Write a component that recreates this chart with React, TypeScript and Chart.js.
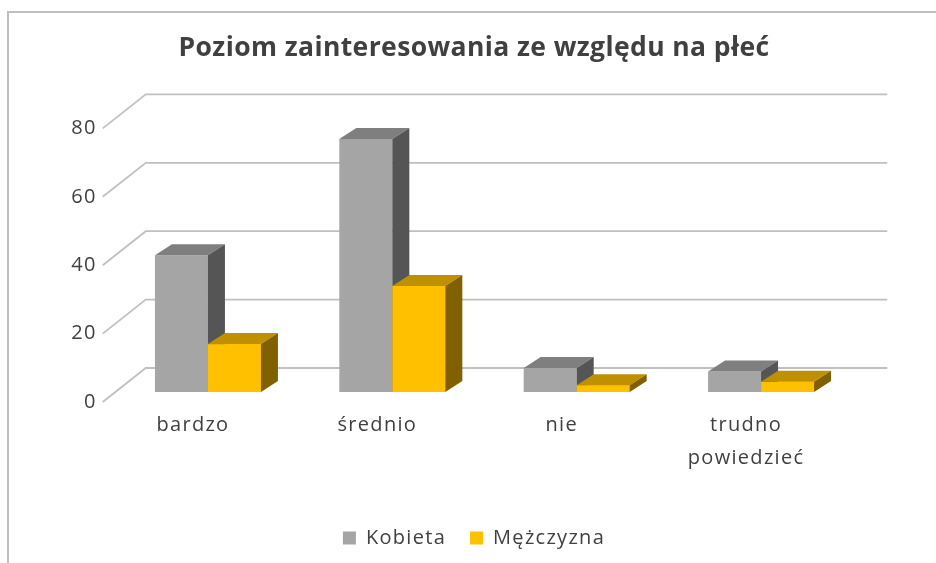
import React, { useEffect, useRef } from 'react';
import { Chart, registerables } from 'chart.js';

Chart.register(...registerables);

// ---- data ----
const categories: string[][] = [['bardzo'], ['średnio'], ['nie'], ['trudno', 'powiedzieć']];
const seriesNames = ['Kobieta', 'Mężczyzna'];
const kobieta = [40, 74, 7, 6];
const mezczyzna = [14, 31, 2, 3];
const yTicks = [0, 20, 40, 60, 80];
const titleText = 'Poziom zainteresowania ze względu na płeć';

// ---- styles ----
const FRONT = ['#a5a5a5', '#ffc000'];
const FACES = [
  { top: '#7f7f7f', side: '#555555' },
  { top: '#bf9000', side: '#806000' },
];
const TEXT = '#404040';
const GRID = '#c0c0c0';
const FONT = "'Open Sans', 'Noto Sans', sans-serif";
const DX = 17;
const DY = -11;

const threeD = {
  id: 'threeD',
  beforeUpdate(chart: any) {
    chart.ctx.letterSpacing = '1.3px';
    const tb = chart.titleBlock;
    if (tb && !tb._lsPatched) {
      const orig = tb.draw;
      tb.draw = function (...a: any[]) {
        const c = this.ctx;
        const prev = c.letterSpacing;
        c.letterSpacing = '0.4px';
        orig.apply(this, a);
        c.letterSpacing = prev;
      };
      tb._lsPatched = true;
    }
  },
  beforeDatasetsDraw(chart: any) {
    const { ctx, chartArea, scales } = chart;
    const y = scales.y;
    ctx.save();
    ctx.strokeStyle = GRID;
    ctx.lineWidth = 1.8;
    const fx = chartArea.left - 13;
    const bx = chartArea.left + 30;
    const rx = chartArea.right + 34;
    for (const v of yTicks) {
      const p = y.getPixelForValue(v);
      ctx.beginPath();
      ctx.moveTo(fx, p + 10);
      ctx.lineTo(bx, p - 24);
      ctx.lineTo(rx, p - 24);
      ctx.stroke();
    }
    ctx.restore();
  },
  afterDatasetsDraw(chart: any) {
    const { ctx } = chart;
    ctx.save();
    chart.data.datasets.forEach((_ds: any, i: number) => {
      const meta = chart.getDatasetMeta(i);
      const faces = FACES[i];
      meta.data.forEach((bar: any) => {
        const { x, y, base, width } = bar.getProps(['x', 'y', 'base', 'width'], true);
        const l = x - width / 2;
        const r = x + width / 2;
        if (i > 0) {
          ctx.fillStyle = FRONT[i];
          ctx.fillRect(l, y, width, base - y);
        }
        ctx.fillStyle = faces.top;
        ctx.beginPath();
        ctx.moveTo(l, y);
        ctx.lineTo(l + DX, y + DY);
        ctx.lineTo(r + DX, y + DY);
        ctx.lineTo(r, y);
        ctx.closePath();
        ctx.fill();
        ctx.fillStyle = faces.side;
        ctx.beginPath();
        ctx.moveTo(r, y);
        ctx.lineTo(r + DX, y + DY);
        ctx.lineTo(r + DX, base + DY);
        ctx.lineTo(r, base);
        ctx.closePath();
        ctx.fill();
      });
    });
    ctx.restore();
  },
};

export default function App() {
  const ref = useRef<HTMLCanvasElement>(null);

  useEffect(() => {
    if (!ref.current) return;
    const chart = new Chart(ref.current, {
      type: 'bar',
      data: {
        labels: categories,
        datasets: [
          {
            label: seriesNames[0],
            data: kobieta,
            backgroundColor: FRONT[0],
            categoryPercentage: 0.575,
            barPercentage: 1,
          },
          {
            label: seriesNames[1],
            data: mezczyzna,
            backgroundColor: FRONT[1],
            categoryPercentage: 0.575,
            barPercentage: 1,
          },
        ],
      },
      options: {
        responsive: false,
        animation: false,
        maintainAspectRatio: false,
        layout: { padding: { left: 12, right: 0, top: 0, bottom: 5 } },
        plugins: {
          tooltip: { enabled: false },
          title: {
            display: true,
            text: titleText,
            color: TEXT,
            font: { family: FONT, size: 26.5, weight: 'bold', lineHeight: 1.2 },
            padding: { top: 32.1, bottom: 54.5 },
          },
          legend: {
            position: 'bottom',
            labels: {
              color: TEXT,
              font: { family: FONT, size: 20 },
              boxWidth: 13,
              boxHeight: 13,
              padding: 24,
            },
          },
        },
        scales: {
          x: {
            grid: { display: false, drawTicks: false },
            border: { display: false },
            ticks: {
              color: TEXT,
              font: { family: FONT, size: 20, lineHeight: 1.65 },
              padding: 16.5,
              labelOffset: -15,
              autoSkip: false,
              maxRotation: 0,
            },
            afterFit: (a: any) => {
              a.height = 112;
            },
          },
          y: {
            position: 'left',
            min: 0,
            max: 80,
            grid: { display: false, drawTicks: false },
            border: { display: false },
            ticks: {
              stepSize: 20,
              color: TEXT,
              font: { family: FONT, size: 20 },
              padding: 19,
              labelOffset: 10,
            },
            afterFit: (a: any) => {
              a.width = 103.75;
            },
          },
          y2: {
            position: 'right',
            display: true,
            grid: { display: false, drawTicks: false },
            border: { display: false },
            ticks: { display: false },
            afterFit: (a: any) => {
              a.width = 82.75;
            },
          },
        },
      },
      plugins: [threeD],
    });
    return () => chart.destroy();
  }, []);

  return (
    <div
      style={{
        position: 'fixed',
        left: 0,
        top: 0,
        width: 936,
        height: 563,
        overflow: 'hidden',
        background: '#ffffff',
      }}
    >
      <div
        style={{
          position: 'absolute',
          left: 7,
          top: 11,
          width: 960,
          height: 600,
          borderLeft: '2px solid #bfbfbf',
          borderTop: '2px solid #bfbfbf',
        }}
      />
      <canvas
        ref={ref}
        width={936}
        height={563}
        style={{ position: 'absolute', left: 0, top: 0, width: 936, height: 563 }}
      />
    </div>
  );
}
